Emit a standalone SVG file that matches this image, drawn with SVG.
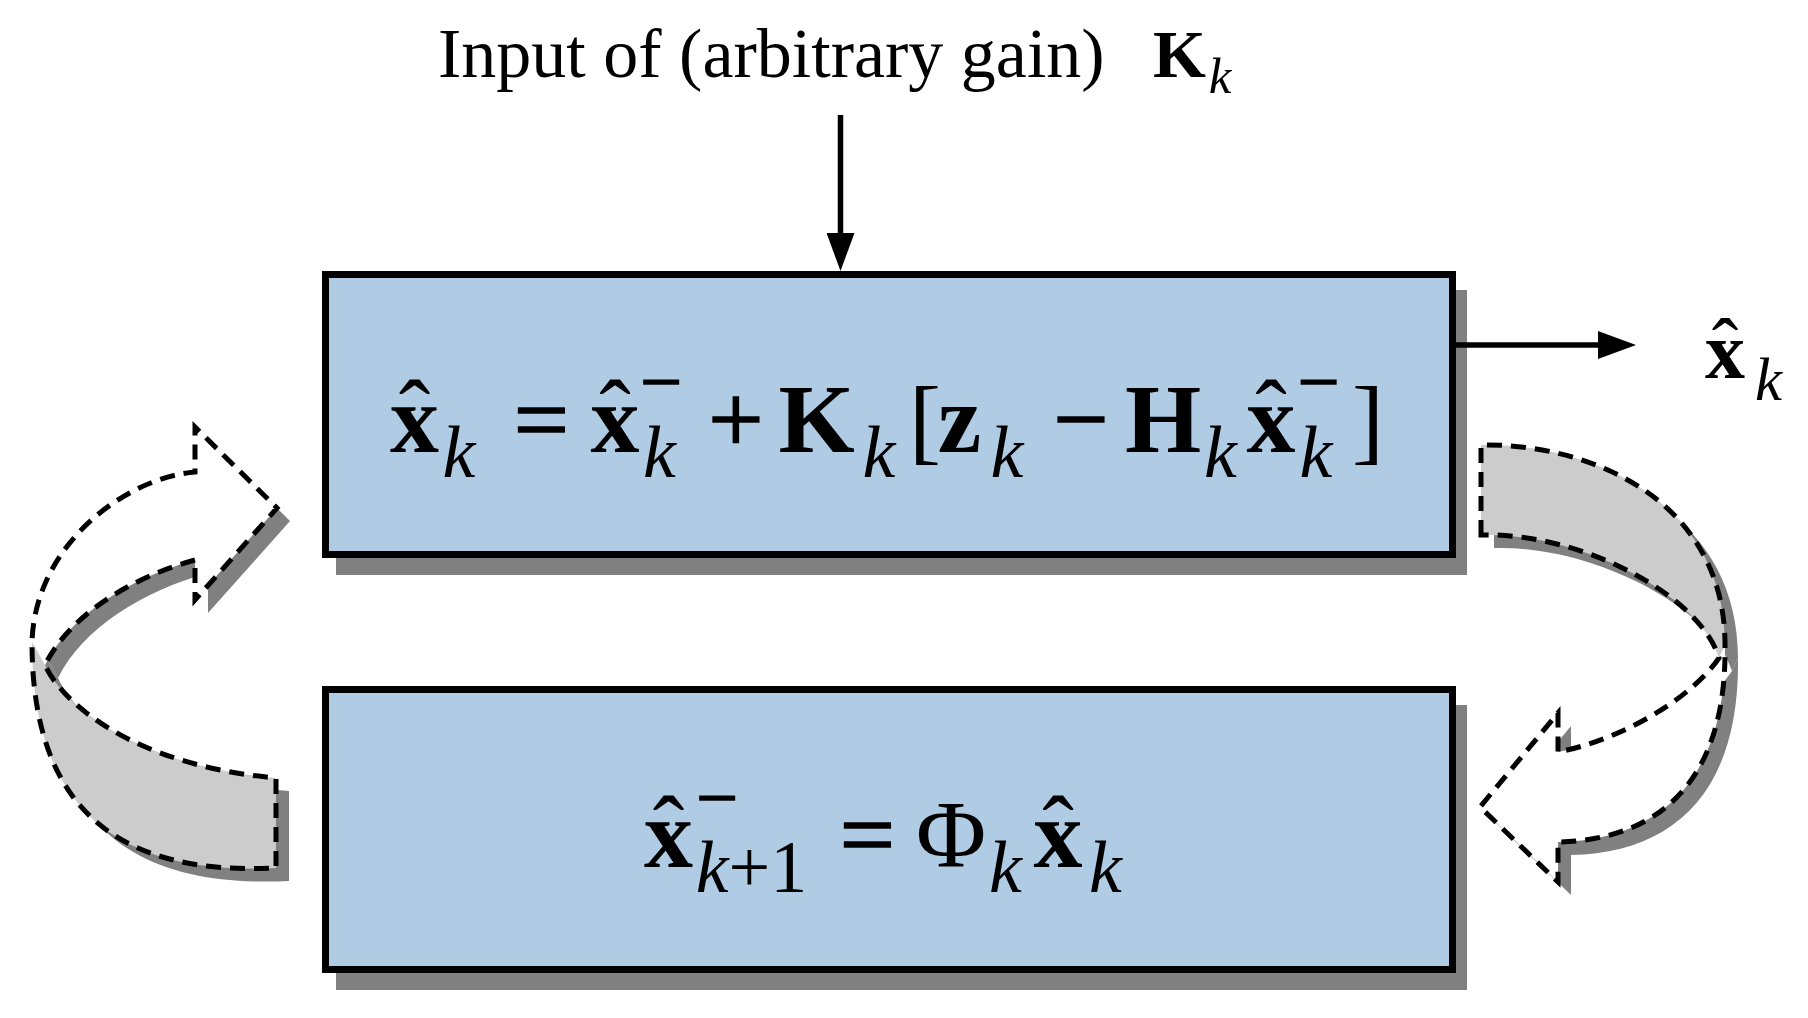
<svg xmlns="http://www.w3.org/2000/svg" width="1808" height="1018" viewBox="0 0 1808 1018">
<defs>
<marker id="ah" markerUnits="userSpaceOnUse" markerWidth="38" markerHeight="28" refX="18" refY="14" orient="auto" viewBox="0 0 38 28">
<path d="M0,0 L38,14 L0,28 Z" fill="#000"/>
</marker>
</defs>
<style>
.box{fill:#B0CCE4;stroke:#000;stroke-width:7}
.shadow{fill:#808080}
.band-gray{fill:#CCCCCC}
.band-white{fill:#FFFFFF}
.dash{fill:none;stroke:#000;stroke-width:5;stroke-dasharray:15 9}
.conn{stroke:#000;stroke-width:5.5;fill:none}
.t{font-family:"Liberation Serif","Times New Roman",serif;fill:#000}
.eq{text-anchor:middle}
.b{font-weight:bold;font-size:98px}
.r{font-size:96px}
.op{font-size:98px;stroke:#000;stroke-width:1.6}
.i{font-style:italic;font-size:74px}
.s{font-size:74px}
.sup{font-size:74px;stroke:#000;stroke-width:1.6}
.hat{font-size:95px}
</style>
<rect width="1808" height="1018" fill="#FFFFFF"/>

<g id="loop-left">
<g class="shadow" transform="translate(13,13)">
<path d="M32,642 C35,545 125,478 195,472 L195,427 L277,508 L195,600 L195,560 C130,578 70,615 45,665 Z"/>
<path d="M32,642 C32,820 130,875 276,868 L276,778 C130,765 60,700 45,665 Z"/>
</g>
<path class="band-white" d="M32,642 C35,545 125,478 195,472 L195,427 L277,508 L195,600 L195,560 C130,578 70,615 45,665 Z"/>
<path class="band-gray" d="M32,642 C32,820 130,875 276,868 L276,778 C130,765 60,700 45,665 Z"/>
<path class="dash" d="M195,560 C130,578 70,615 45,665 C60,700 130,765 276,778 L276,868 C130,875 32,820 32,642 C35,545 125,478 195,472 L195,427 L277,508 L195,600 Z"/>
</g>

<g id="loop-right">
<g class="shadow" transform="translate(13,13)">
<path d="M1481,445 C1590,443 1725,500 1725,645 L1719,658 C1700,595 1580,532 1481,535 Z"/>
<path d="M1725,645 C1727,780 1660,840 1558,842 L1558,882 L1480,807 L1558,713 L1558,752 C1620,740 1690,700 1719,658 Z"/>
</g>
<path class="band-gray" d="M1481,445 C1590,443 1725,500 1725,645 L1719,658 C1700,595 1580,532 1481,535 Z"/>
<path class="band-white" d="M1725,645 C1727,780 1660,840 1558,842 L1558,882 L1480,807 L1558,713 L1558,752 C1620,740 1690,700 1719,658 Z"/>
<path class="dash" d="M1481,535 L1481,445 C1590,443 1725,500 1725,645 C1727,780 1660,840 1558,842 L1558,882 L1480,807 L1558,713 L1558,752 C1620,740 1690,700 1719,658 C1700,595 1580,532 1481,535 Z"/>
</g>

<g id="box-update">
<rect class="shadow" x="336" y="290" width="1131" height="285"/>
<rect class="box" x="325.5" y="274.5" width="1127" height="280"/>
<text class="t eq">
<tspan class="b" x="416.5" y="452">x</tspan>
<tspan class="hat" x="416.5" y="446">ˆ</tspan>
<tspan class="i" x="461" y="477">k</tspan>
<tspan class="op" x="543.5" y="452">=</tspan>
<tspan class="b" x="617" y="452">x</tspan>
<tspan class="hat" x="617" y="446">ˆ</tspan>
<tspan class="sup" x="663" y="407">−</tspan>
<tspan class="i" x="661.5" y="477">k</tspan>
<tspan class="op" x="738" y="452">+</tspan>
<tspan class="b" x="818.5" y="452">K</tspan>
<tspan class="i" x="881" y="477">k</tspan>
<tspan class="r" x="927" y="452">[</tspan>
<tspan class="b" x="961.5" y="452">z</tspan>
<tspan class="i" x="1009" y="477">k</tspan>
<tspan class="op" x="1083" y="452">−</tspan>
<tspan class="b" x="1165" y="452">H</tspan>
<tspan class="i" x="1222.5" y="477">k</tspan>
<tspan class="b" x="1273" y="452">x</tspan>
<tspan class="hat" x="1273" y="446">ˆ</tspan>
<tspan class="sup" x="1320.5" y="407">−</tspan>
<tspan class="i" x="1318" y="477">k</tspan>
<tspan class="r" x="1368" y="452">]</tspan>
</text>
</g>

<g id="box-project">
<rect class="shadow" x="336" y="705" width="1131" height="285"/>
<rect class="box" x="325.5" y="689.5" width="1127" height="280"/>
<text class="t eq">
<tspan class="b" x="670.5" y="867">x</tspan>
<tspan class="hat" x="670.5" y="862">ˆ</tspan>
<tspan class="sup" x="719" y="823">−</tspan>
<tspan class="i" x="753.5" y="892">k</tspan><tspan class="s">+1</tspan>
<tspan class="op" x="869.5" y="867">=</tspan>
<tspan class="r" x="953" y="867">Φ</tspan>
<tspan class="i" x="1007.5" y="892">k</tspan>
<tspan class="b" x="1060" y="867">x</tspan>
<tspan class="hat" x="1060" y="862">ˆ</tspan>
<tspan class="i" x="1105.5" y="892">k</tspan>
</text>
</g>

<g id="label-input">
<text class="t" x="438" y="77" font-size="70">Input of (arbitrary gain)</text>
<text class="t eq"><tspan x="1179.5" y="77" font-size="68" font-weight="bold">K</tspan><tspan x="1220" y="93" font-size="51" font-style="italic">k</tspan></text>
</g>

<g id="label-output">
<text class="t eq">
<tspan x="1727" y="378" font-size="80" font-weight="bold">x</tspan>
<tspan x="1727" y="374" font-size="80">ˆ</tspan>
<tspan x="1768.5" y="400" font-size="61" font-style="italic">k</tspan>
</text>
</g>

<g id="connectors">
<line class="conn" x1="840.5" y1="115" x2="840.5" y2="251" marker-end="url(#ah)"/>
<line class="conn" x1="1456" y1="345" x2="1616" y2="345" marker-end="url(#ah)"/>
</g>
</svg>
